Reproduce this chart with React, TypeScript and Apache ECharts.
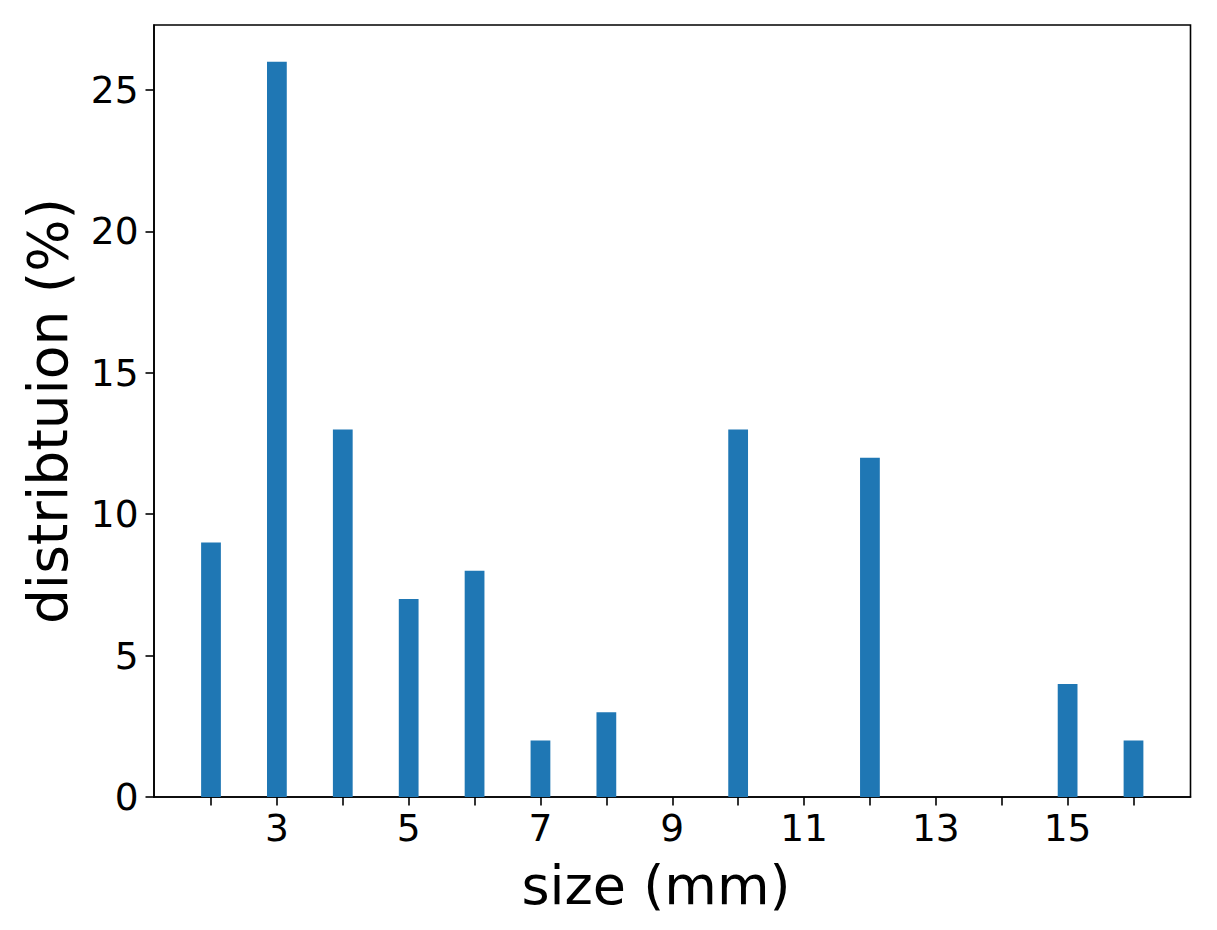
import React, { useEffect, useRef } from "react";
import * as echarts from "echarts";

const sizes = [2, 3, 4, 5, 6, 7, 8, 10, 12, 15, 16];
const distribution = [9, 26, 13, 7, 8, 2, 3, 13, 12, 4, 2];
const xTicks = [2, 3, 4, 5, 6, 7, 8, 9, 10, 11, 12, 13, 14, 15, 16];
const xLabels = [3, 5, 7, 9, 11, 13, 15];
const yTicks = [0, 5, 10, 15, 20, 25];
const xTitle = "size (mm)";
const yTitle = "distribtuion (%)";
const BAR_HALF = 0.15;

export default function App() {
  const ref = useRef<HTMLDivElement>(null);
  useEffect(() => {
    if (!ref.current) return;
    const chart = echarts.init(ref.current, undefined, { renderer: "svg" });
    const font = "DejaVu Sans";
    const data = sizes.map((s, i) => [s, distribution[i]]);
    chart.setOption({
      animation: false,
      backgroundColor: "#ffffff",
      grid: {
        left: 154,
        top: 25,
        right: 26.5,
        bottom: 133,
        show: true,
        borderColor: "#000000",
        borderWidth: 1.6,
        backgroundColor: "transparent",
      },
      xAxis: {
        type: "value",
        min: 1.135,
        max: 16.865,
        axisLine: { show: true, onZero: false, lineStyle: { color: "#000", width: 1.6 } },
        axisTick: {
          show: true,
          inside: false,
          length: 8.5,
          customValues: xTicks,
          lineStyle: { color: "#000", width: 1.6 },
        },
        axisLabel: {
          show: true,
          customValues: xLabels,
          margin: 12,
          fontSize: 37.5,
          fontFamily: font,
          color: "#000",
        },
        splitLine: { show: false },
      },
      yAxis: {
        type: "value",
        min: 0,
        max: 27.3,
        axisLine: { show: true, onZero: false, lineStyle: { color: "#000", width: 1.6 } },
        axisTick: {
          show: true,
          inside: false,
          length: 8.5,
          customValues: yTicks,
          lineStyle: { color: "#000", width: 1.6 },
        },
        axisLabel: {
          show: true,
          customValues: yTicks,
          margin: 15.5,
          fontSize: 37.5,
          fontFamily: font,
          color: "#000",
        },
        splitLine: { show: false },
      },
      series: [
        {
          type: "custom",
          data,
          renderItem: (params: any, api: any) => {
            const x = api.value(0);
            const y = api.value(1);
            const p0 = api.coord([x - BAR_HALF, y]);
            const p1 = api.coord([x + BAR_HALF, 0]);
            return {
              type: "rect",
              shape: { x: p0[0], y: p0[1], width: p1[0] - p0[0], height: p1[1] - p0[1] },
              style: { fill: "#1f77b4" },
            };
          },
          z: 1,
        },
      ],
      graphic: [
        {
          type: "text",
          x: 656,
          y: 885,
          style: {
            text: xTitle,
            fontSize: 54,
            fontFamily: font,
            fill: "#000",
            textAlign: "center",
            textVerticalAlign: "middle",
          },
        },
        {
          type: "text",
          x: 48,
          y: 411,
          rotation: Math.PI / 2,
          style: {
            text: yTitle,
            fontSize: 55,
            fontFamily: font,
            fill: "#000",
            textAlign: "center",
            textVerticalAlign: "middle",
          },
        },
      ],
    });
    return () => chart.dispose();
  }, []);
  return (
    <div
      ref={ref}
      style={{ position: "fixed", left: 0, top: 0, width: 1217, height: 930, background: "#fff" }}
    />
  );
}
